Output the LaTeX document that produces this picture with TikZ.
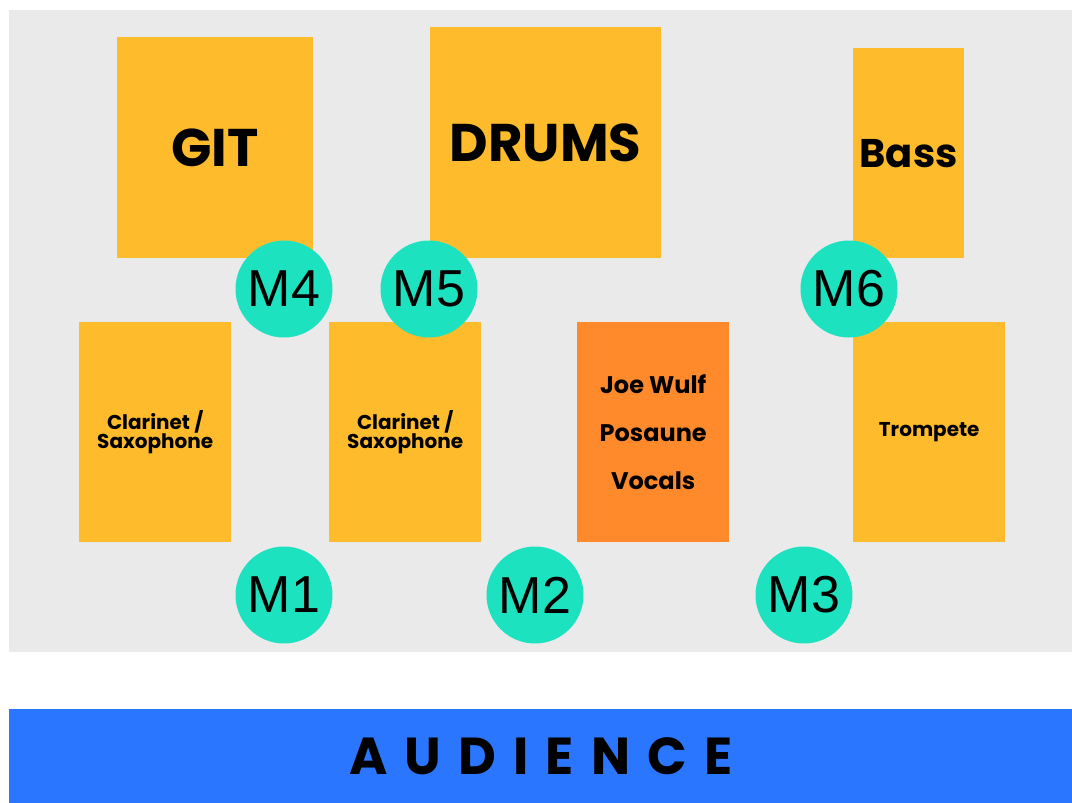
\documentclass[tikz,border=0pt]{standalone}
\usepackage{fontspec}
\setmainfont{Poppins}
\newfontfamily\micfont{Liberation Sans}
\newfontfamily\audfont[LetterSpace=33]{Poppins}
\usetikzlibrary{positioning}

\definecolor{stagegray}{HTML}{EAEAEA}
\definecolor{instyellow}{HTML}{FEBC2C}
\definecolor{vocorange}{HTML}{FF8A2B}
\definecolor{micgreen}{HTML}{1DE2C0}
\definecolor{audblue}{HTML}{2A76FF}

\newcommand\bigbf{\bfseries\fontsize{53}{60}\selectfont}
\newcommand\midbf{\bfseries\fontsize{40}{48}\selectfont}
\newcommand\smallbf{\bfseries\fontsize{20}{19}\selectfont}
\newcommand\vocbf{\bfseries\fontsize{24}{48}\selectfont}

\begin{document}
\begin{tikzpicture}[x=1pt,y=-1pt,
        inst/.style={fill=instyellow,anchor=north west,inner sep=0pt,align=center},
        mic/.style={circle,fill=micgreen,minimum size=97pt,inner sep=0pt,
          font=\micfont\fontsize{52}{52}\selectfont}]

  \useasboundingbox (0,0) rectangle (1072,803);

  % stage
  \fill[stagegray] (9,10) rectangle (1072,652);

  % back row
  \node[inst,minimum width=196pt,minimum height=221pt,font=\bigbf] (git) at (117,37) {GIT};
  \node[inst,minimum width=231pt,minimum height=231pt,font=\bigbf] (drums) at (430,27) {DRUMS};
  \node[inst,minimum width=111pt,minimum height=210pt,font=\midbf] (bass) at (853,48) {Bass};

  % front row
  \node[inst,minimum width=152pt,minimum height=220pt,font=\smallbf] (clar1) at (79,322) {Clarinet /\\Saxophone};
  \node[inst,minimum width=152pt,minimum height=220pt,font=\smallbf] (clar2) at (329,322) {Clarinet /\\Saxophone};
  \node[inst,fill=vocorange,minimum width=152pt,minimum height=220pt,font=\vocbf] (joe) at (577,322) {Joe Wulf\\Posaune\\Vocals};
  \node[inst,minimum width=152pt,minimum height=220pt,font=\smallbf] (trp) at (853,322) {Trompete\strut};

  % mics
  \node[mic] (m4) at (284,289) {M4};
  \node[mic] (m5) at (429,289) {M5};
  \node[mic] (m6) at (849,289) {M6};
  \node[mic] (m1) at (284,595) {M1};
  \node[mic] (m2) at (535,595) {M2};
  \node[mic] (m3) at (804,595) {M3};

  % audience
  \node[fill=audblue,anchor=north west,minimum width=1063pt,minimum height=94pt,inner sep=0pt,
        font=\audfont\bfseries\fontsize{52}{60}\selectfont] (audience) at (9,709) {AUDIENCE};

\end{tikzpicture}
\end{document}
